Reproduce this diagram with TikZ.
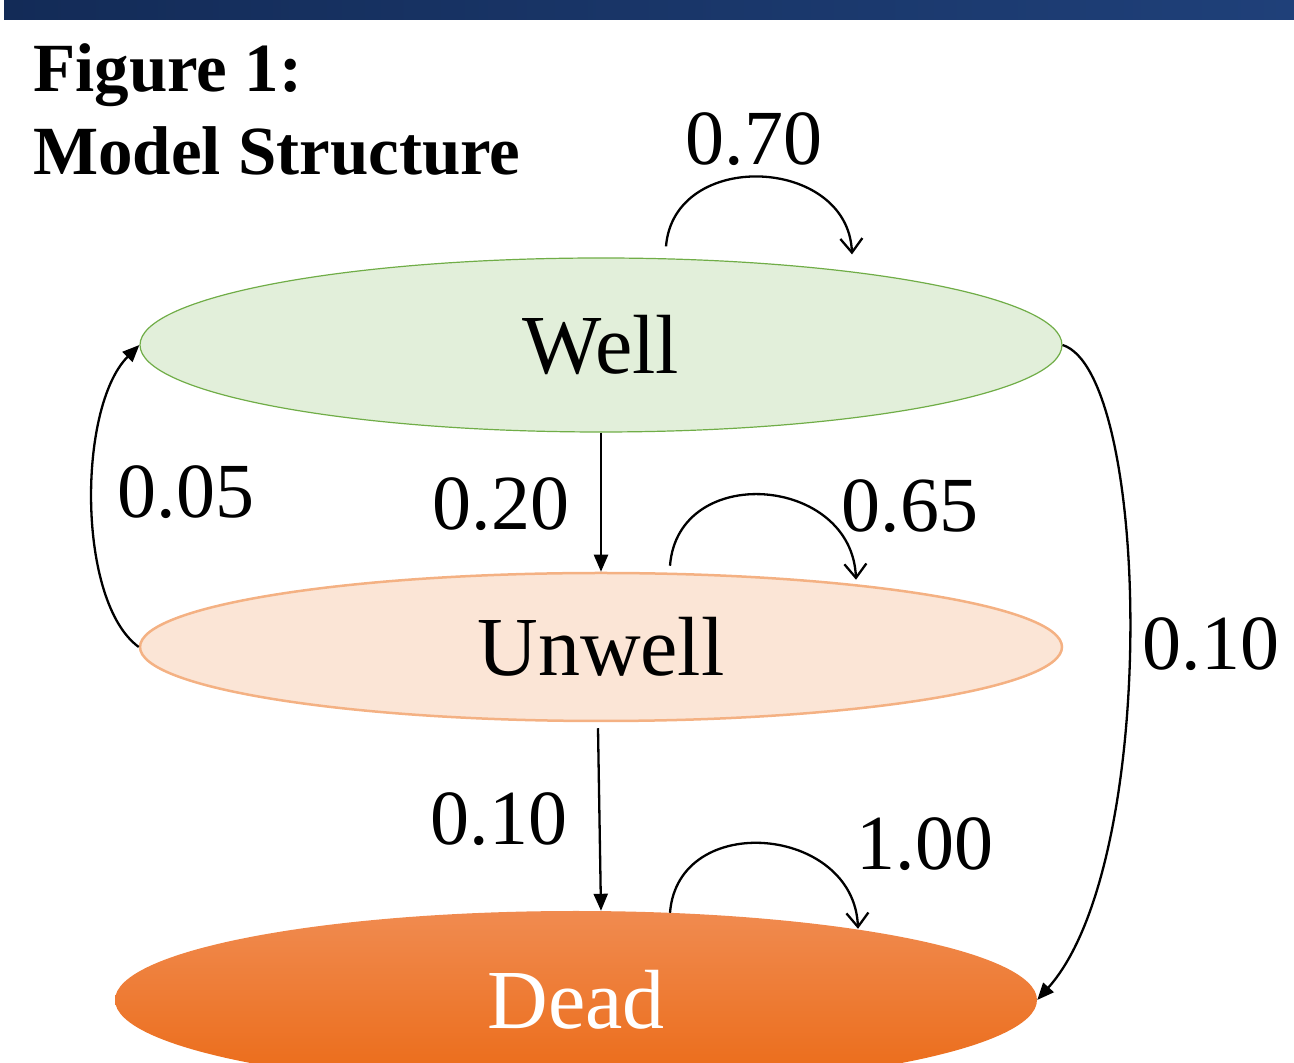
\documentclass[tikz,border=0pt]{standalone}
\usepackage{fontspec}
\setmainfont{Liberation Serif}
\usetikzlibrary{shapes.geometric,arrows.meta}

\definecolor{barleft}{HTML}{132B57}
\definecolor{barright}{HTML}{1F4079}
\definecolor{wellfill}{HTML}{E2EFDA}
\definecolor{welldraw}{HTML}{70AD47}
\definecolor{unwellfill}{HTML}{FBE5D6}
\definecolor{unwelldraw}{HTML}{F4B183}
\definecolor{deadtop}{HTML}{F08B50}
\definecolor{deadbottom}{HTML}{EB6A16}

\begin{document}
\begin{tikzpicture}[x=1pt,y=1pt,
    state/.style={ellipse,minimum width=922pt,inner sep=0pt,
      font=\fontsize{84}{100}\selectfont},
    prob/.style={anchor=base,inner sep=0pt,
      font=\fontsize{78}{94}\selectfont},
    trans/.style={line width=2.3pt,-{Triangle[length=17pt,width=14pt]}},
    stay/.style={line width=2.3pt,-{Straight Barb[length=14pt,width=22pt]}}]

  \useasboundingbox (0,0) rectangle (1294,1063);

  % Banner and title
  \shade[left color=barleft,right color=barright] (4,1043) rectangle (1294,1063);
  \node[anchor=base west,inner sep=0pt,font=\fontsize{69}{83}\selectfont\bfseries]
    (fig) at (33,971) {Figure 1:};
  \node[anchor=base west,inner sep=0pt,font=\fontsize{69}{83}\selectfont\bfseries]
    (title) at (33,888) {Model Structure};

  % States
  \node[state,minimum height=174pt,fill=wellfill,draw=welldraw,line width=1.2pt]
    (well) at (601,718) {Well};
  \node[state,minimum height=148pt,fill=unwellfill,draw=unwelldraw,line width=2.5pt]
    (unwell) at (601,416) {Unwell};
  \node[state,minimum height=178pt,top color=deadtop,bottom color=deadbottom,
    text=white] (dead) at (576,63) {Dead};

  % Moves between states
  \draw[trans] (well.south) -- (unwell.north);
  \draw[trans] ([shift={(-3,-6)}]unwell.south) -- (unwell.south |- dead.north);
  \draw[trans] (well.east) .. controls +(88,-28) and +(123,137) .. (dead.east);
  \draw[trans] (unwell.west) .. controls +(-62,45) and +(-62,-62) .. (well.west);

  % Staying put
  \draw[stay] ([shift={(65,11)}]well.north)
    .. controls +(8,98) and +(-4,98) .. ([shift={(251,3)}]well.north);
  \draw[stay] ([shift={(69,6)}]unwell.north)
    .. controls +(8,104) and +(-4,104) .. ([shift={(255,-8)}]unwell.north);
  \draw[stay] ([shift={(94,-2)}]dead.north)
    .. controls +(8,103) and +(-4,103) .. ([shift={(282,-18)}]dead.north);

  % Transition probabilities
  \node[prob] (pww) at (754,898) {0.70};
  \node[prob] (puw) at (186,545) {0.05};
  \node[prob] (pwu) at (501,533) {0.20};
  \node[prob] (puu) at (910,531) {0.65};
  \node[prob] (pwd) at (1211,393) {0.10};
  \node[prob] (pud) at (499,218) {0.10};
  \node[prob] (pdd) at (925,193) {1.00};

\end{tikzpicture}
\end{document}
